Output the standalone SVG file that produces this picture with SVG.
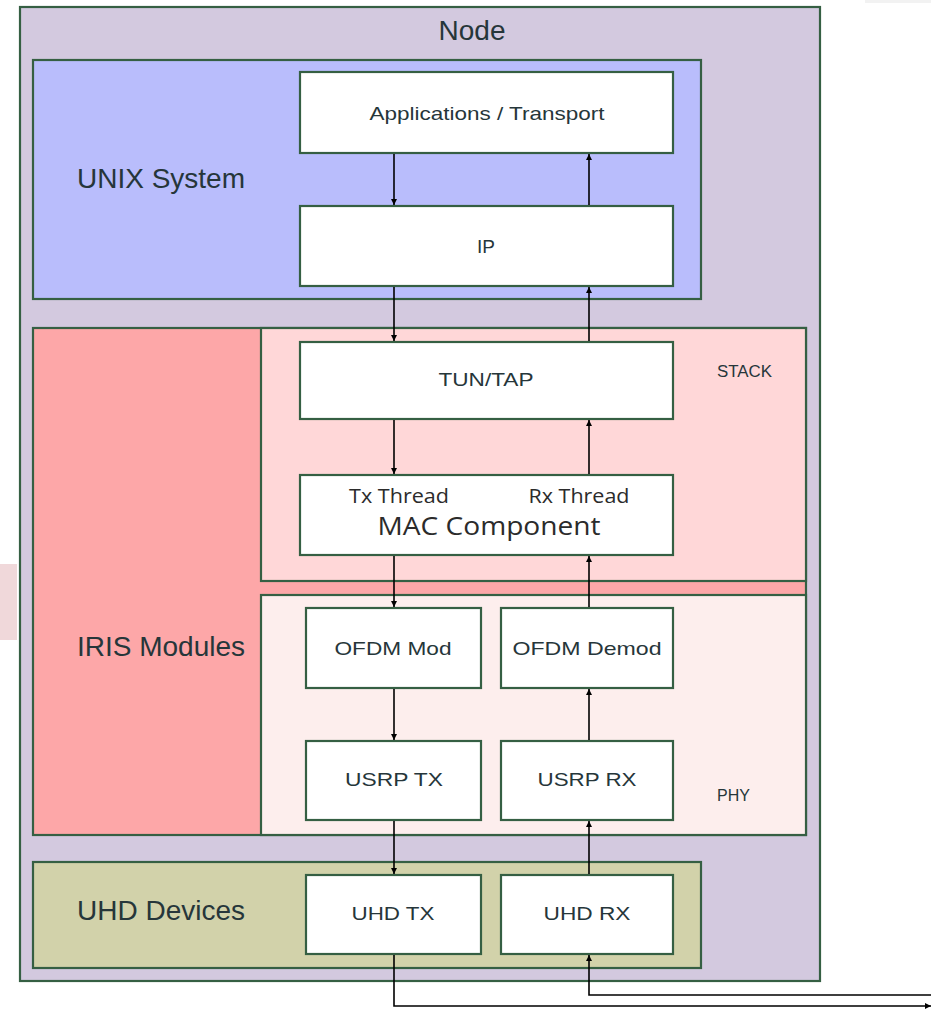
<svg xmlns="http://www.w3.org/2000/svg" width="931" height="1010" viewBox="0 0 931 1010">
<style>
.box{stroke:#355f43;stroke-width:2.2}
.w{fill:#ffffff}
.t{font-family:"Liberation Sans",Arial,sans-serif;fill:#26363a}
.big{font-size:28px}
.mid{font-size:19px}
.sm{font-size:16px}
.seg{font-family:"Open Sans","Noto Sans",sans-serif;fill:#2b2b2b}
.c{text-anchor:middle}
.ln{stroke:#000;stroke-width:1.6;fill:none}
</style>
<defs>
<marker id="ah" viewBox="0 0 10 10" refX="10" refY="5" markerWidth="9" markerHeight="6" markerUnits="userSpaceOnUse" orient="auto">
<path d="M0,0 L10,5 L0,10 z" fill="#000"/>
</marker>
</defs>
<rect x="0" y="0" width="931" height="1010" fill="#ffffff"/>
<rect x="0" y="564" width="17" height="76" fill="#f0d8da"/>
<rect x="865" y="0" width="66" height="3" fill="#f2f2f2"/>

<g id="node">
<rect class="box" x="20" y="7" width="800" height="974" fill="#d3c9df"/>
<text class="t big c" x="472" y="40">Node</text>
</g>

<g id="unix">
<rect class="box" x="33" y="60" width="668" height="239" fill="#b9bdfc"/>
<text class="t big" x="77" y="188" textLength="168" lengthAdjust="spacingAndGlyphs">UNIX System</text>
</g>

<g id="iris">
<rect class="box" x="33" y="328" width="773" height="507" fill="#fda7a8"/>
<text class="t big" x="77" y="656" textLength="168" lengthAdjust="spacingAndGlyphs">IRIS Modules</text>
</g>

<g id="stack">
<rect class="box" x="261" y="328" width="545" height="253" fill="#ffd7d8"/>
<text class="t sm" x="717" y="377" textLength="55" lengthAdjust="spacingAndGlyphs">STACK</text>
</g>

<g id="phy">
<rect class="box" x="261" y="595" width="545" height="240" fill="#fdeeed"/>
<text class="t sm" x="717" y="801">PHY</text>
</g>

<g id="uhd">
<rect class="box" x="33" y="862" width="668" height="106" fill="#d2d2aa"/>
<text class="t big" x="77" y="920" textLength="168" lengthAdjust="spacingAndGlyphs">UHD Devices</text>
</g>

<g id="apps">
<rect class="box w" x="300" y="72" width="373" height="81"/>
<text class="t mid c" x="487" y="120" textLength="235" lengthAdjust="spacingAndGlyphs">Applications / Transport</text>
</g>

<g id="ip">
<rect class="box w" x="300" y="206" width="373" height="80"/>
<text class="t mid c" x="486" y="253">IP</text>
</g>

<g id="tuntap">
<rect class="box w" x="300" y="342" width="373" height="77"/>
<text class="t mid c" x="486" y="386" textLength="95" lengthAdjust="spacingAndGlyphs">TUN/TAP</text>
</g>

<g id="mac">
<rect class="box w" x="300" y="475" width="373" height="80"/>
<text class="seg c" x="399" y="503" font-size="20" textLength="100" lengthAdjust="spacingAndGlyphs">Tx Thread</text>
<text class="seg c" x="579" y="503" font-size="20" textLength="101" lengthAdjust="spacingAndGlyphs">Rx Thread</text>
<text class="seg c" x="489" y="535" font-size="26" textLength="223" lengthAdjust="spacingAndGlyphs">MAC Component</text>
</g>

<g id="ofdmmod">
<rect class="box w" x="306" y="608" width="175" height="80"/>
<text class="t mid c" x="393" y="655" textLength="117" lengthAdjust="spacingAndGlyphs">OFDM Mod</text>
</g>

<g id="ofdmdemod">
<rect class="box w" x="501" y="608" width="172" height="80"/>
<text class="t mid c" x="587" y="655" textLength="149" lengthAdjust="spacingAndGlyphs">OFDM Demod</text>
</g>

<g id="usrptx">
<rect class="box w" x="306" y="741" width="175" height="79"/>
<text class="t mid c" x="394" y="786" textLength="98" lengthAdjust="spacingAndGlyphs">USRP TX</text>
</g>

<g id="usrprx">
<rect class="box w" x="501" y="741" width="172" height="79"/>
<text class="t mid c" x="587" y="786" textLength="99" lengthAdjust="spacingAndGlyphs">USRP RX</text>
</g>

<g id="uhdtx">
<rect class="box w" x="306" y="875" width="175" height="79"/>
<text class="t mid c" x="393" y="920" textLength="83" lengthAdjust="spacingAndGlyphs">UHD TX</text>
</g>

<g id="uhdrx">
<rect class="box w" x="501" y="875" width="172" height="79"/>
<text class="t mid c" x="587" y="920" textLength="87" lengthAdjust="spacingAndGlyphs">UHD RX</text>
</g>

<g id="connectors">
<line class="ln" x1="394" y1="154" x2="394" y2="205" marker-end="url(#ah)"/>
<line class="ln" x1="589" y1="205" x2="589" y2="154" marker-end="url(#ah)"/>
<line class="ln" x1="394" y1="287" x2="394" y2="341" marker-end="url(#ah)"/>
<line class="ln" x1="589" y1="341" x2="589" y2="287" marker-end="url(#ah)"/>
<line class="ln" x1="394" y1="420" x2="394" y2="474" marker-end="url(#ah)"/>
<line class="ln" x1="589" y1="474" x2="589" y2="420" marker-end="url(#ah)"/>
<line class="ln" x1="394" y1="556" x2="394" y2="607" marker-end="url(#ah)"/>
<line class="ln" x1="589" y1="607" x2="589" y2="556" marker-end="url(#ah)"/>
<line class="ln" x1="394" y1="689" x2="394" y2="740" marker-end="url(#ah)"/>
<line class="ln" x1="589" y1="740" x2="589" y2="689" marker-end="url(#ah)"/>
<line class="ln" x1="394" y1="821" x2="394" y2="874" marker-end="url(#ah)"/>
<line class="ln" x1="589" y1="874" x2="589" y2="821" marker-end="url(#ah)"/>
<polyline class="ln" points="394,955 394,1006 931,1006" marker-end="url(#ah)"/>
<polyline class="ln" points="931,995 589,995 589,955" marker-end="url(#ah)"/>
</g>
</svg>
